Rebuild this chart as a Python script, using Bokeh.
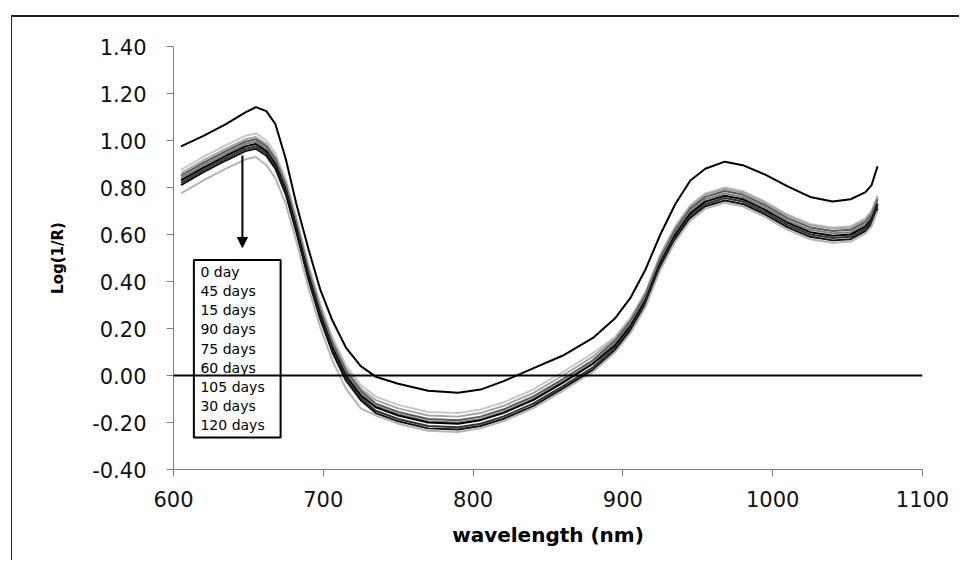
from bokeh.plotting import figure
from bokeh.models import (BoxAnnotation, Span, Arrow, NormalHead, LabelSet,
                          ColumnDataSource, FixedTicker, PrintfTickFormatter)
from bokeh.core.properties import value
from bokeh.embed import file_html
from bokeh.resources import INLINE

# ---------------- data ----------------
wavelength = [605, 620, 635, 648, 655, 662, 668, 675, 682, 690, 698, 706, 715, 725, 735,
              750, 770, 790, 805, 820, 840, 860, 880, 895, 905, 915, 925, 935, 945, 955,
              968, 980, 995, 1010, 1025, 1040, 1052, 1062, 1066, 1070]

day0 = [0.975, 1.02, 1.07, 1.12, 1.142, 1.125, 1.07, 0.92, 0.73, 0.54, 0.365, 0.235, 0.12, 0.04, -0.005,
        -0.035, -0.065, -0.073, -0.06, -0.025, 0.03, 0.085, 0.16, 0.245, 0.33, 0.45, 0.60, 0.73, 0.83, 0.88,
        0.91, 0.895, 0.855, 0.805, 0.76, 0.74, 0.75, 0.78, 0.81, 0.89]
day45 = [0.875, 0.93, 0.98, 1.02, 1.03, 1.0, 0.945, 0.835, 0.675, 0.475, 0.305, 0.165, 0.045, -0.04, -0.09,
         -0.125, -0.155, -0.16, -0.145, -0.115, -0.06, 0.015, 0.095, 0.165, 0.245, 0.355, 0.515, 0.635, 0.725, 0.775,
         0.80, 0.785, 0.74, 0.685, 0.645, 0.63, 0.635, 0.67, 0.70, 0.765]
day15 = [0.86, 0.915, 0.965, 1.005, 1.015, 0.985, 0.93, 0.82, 0.66, 0.46, 0.29, 0.15, 0.03, -0.055, -0.105,
         -0.14, -0.17, -0.175, -0.16, -0.13, -0.075, 0.0, 0.08, 0.16, 0.24, 0.35, 0.51, 0.63, 0.72, 0.77,
         0.795, 0.78, 0.735, 0.68, 0.64, 0.625, 0.63, 0.665, 0.695, 0.76]
day90 = [0.85, 0.905, 0.955, 0.995, 1.005, 0.975, 0.92, 0.81, 0.65, 0.45, 0.28, 0.14, 0.02, -0.065, -0.12,
         -0.155, -0.185, -0.19, -0.175, -0.145, -0.09, -0.015, 0.065, 0.15, 0.23, 0.34, 0.50, 0.62, 0.71, 0.76,
         0.785, 0.77, 0.725, 0.67, 0.63, 0.615, 0.62, 0.655, 0.685, 0.75]
day75 = [0.84, 0.895, 0.945, 0.985, 0.995, 0.965, 0.91, 0.80, 0.64, 0.44, 0.27, 0.13, 0.01, -0.075, -0.13,
         -0.165, -0.195, -0.20, -0.185, -0.155, -0.10, -0.025, 0.055, 0.14, 0.22, 0.33, 0.49, 0.61, 0.70, 0.75,
         0.775, 0.76, 0.715, 0.66, 0.62, 0.605, 0.61, 0.645, 0.675, 0.74]
day60 = [0.83, 0.885, 0.935, 0.975, 0.985, 0.955, 0.90, 0.79, 0.63, 0.43, 0.26, 0.12, 0.0, -0.085, -0.135,
         -0.17, -0.20, -0.205, -0.19, -0.16, -0.105, -0.03, 0.05, 0.13, 0.21, 0.32, 0.48, 0.60, 0.69, 0.74,
         0.765, 0.75, 0.705, 0.65, 0.61, 0.595, 0.60, 0.635, 0.665, 0.73]
day105 = [0.82, 0.875, 0.925, 0.965, 0.975, 0.945, 0.89, 0.78, 0.62, 0.42, 0.25, 0.11, -0.01, -0.095, -0.15,
          -0.185, -0.215, -0.22, -0.205, -0.175, -0.12, -0.045, 0.035, 0.12, 0.20, 0.31, 0.47, 0.59, 0.68, 0.73,
          0.755, 0.74, 0.695, 0.64, 0.60, 0.585, 0.59, 0.625, 0.655, 0.72]
day30 = [0.81, 0.865, 0.915, 0.955, 0.965, 0.935, 0.88, 0.77, 0.61, 0.41, 0.24, 0.10, -0.02, -0.105, -0.16,
         -0.195, -0.225, -0.23, -0.215, -0.185, -0.13, -0.055, 0.025, 0.11, 0.19, 0.30, 0.46, 0.58, 0.67, 0.72,
         0.745, 0.73, 0.685, 0.63, 0.59, 0.575, 0.58, 0.615, 0.645, 0.71]
day120 = [0.775, 0.83, 0.88, 0.92, 0.93, 0.895, 0.84, 0.73, 0.57, 0.375, 0.205, 0.065, -0.055, -0.14, -0.17,
          -0.205, -0.235, -0.24, -0.225, -0.195, -0.14, -0.065, 0.015, 0.10, 0.18, 0.29, 0.45, 0.57, 0.66, 0.71,
          0.735, 0.72, 0.675, 0.62, 0.58, 0.565, 0.57, 0.605, 0.635, 0.70]

series_names = ["0 day", "45 days", "15 days", "90 days", "75 days", "60 days",
                "105 days", "30 days", "120 days"]
series_values = [day0, day45, day15, day90, day75, day60, day105, day30, day120]
series_colors = ["#000000", "#c8c8c8", "#a4a4a4", "#5a5a5a", "#808080", "#000000",
                 "#333333", "#111111", "#b4b4b4"]

x_ticks = [600, 700, 800, 900, 1000, 1100]
y_ticks = [-0.4, -0.2, 0.0, 0.2, 0.4, 0.6, 0.8, 1.0, 1.2, 1.4]

# ---------------- figure ----------------
p = figure(width=948, height=545, x_range=(600, 1100), y_range=(-0.4, 1.4),
           output_backend="svg", toolbar_location=None,
           min_border_left=161, min_border_right=38, min_border_top=29, min_border_bottom=93)
p.margin = (15, 0, 0, 11)
p.styles = {"border-top": "2px solid #222222", "border-left": "1px solid #222222"}
p.outline_line_color = None
p.grid.visible = False
p.background_fill_color = "white"
p.border_fill_color = "white"

for name, vals, col in zip(series_names, series_values, series_colors):
    p.line(wavelength, vals, line_color=col, line_width=2)

# axes
for ax in (p.xaxis[0], p.yaxis[0]):
    ax.axis_line_color = "#808080"
    ax.major_tick_line_color = "#808080"
    ax.minor_tick_line_color = None
    ax.major_tick_in = 0
    ax.major_tick_out = 7
    ax.major_label_text_font = "DejaVu Sans"
    ax.major_label_text_font_size = "21px"
    ax.major_label_text_color = "#111111"
    ax.axis_label_text_color = "#000000"
    ax.axis_label_text_font_style = "bold"

p.xaxis.ticker = FixedTicker(ticks=x_ticks)
p.yaxis.ticker = FixedTicker(ticks=y_ticks)
p.yaxis.formatter = PrintfTickFormatter(format="%.2f")
p.xaxis.major_label_standoff = 14
p.yaxis.major_label_standoff = 20

p.xaxis.axis_label = "wavelength (nm)"
p.xaxis.axis_label_text_font = "DejaVu Sans"
p.xaxis.axis_label_text_font_size = "20px"
p.xaxis.axis_label_standoff = 13

p.yaxis.axis_label = "Log(1/R)"
p.yaxis.axis_label_text_font = "DejaVu Sans"
p.yaxis.axis_label_text_font_size = "15px"
p.yaxis.axis_label_standoff = 22

# legend box (drawn manually, text only)
leg_box = BoxAnnotation(left=613.6, right=671.5, top=0.492, bottom=-0.264,
                        fill_color="white", fill_alpha=1.0,
                        line_color="black", line_alpha=1.0, line_width=2)
p.add_layout(leg_box)
row_top = 0.44
row_step = 0.0813
leg_src = ColumnDataSource(dict(x=[618.0] * len(series_names),
                                y=[row_top - i * row_step for i in range(len(series_names))],
                                text=series_names))
p.add_layout(LabelSet(x="x", y="y", text="text", source=leg_src,
                      text_font=value("DejaVu Sans"), text_font_size=value("14px"),
                      text_baseline="middle", text_color="black"))

# zero line
p.add_layout(Span(location=0, dimension="width", line_color="black", line_width=2))

# arrow
p.add_layout(Arrow(x_start=646, y_start=0.936, x_end=646, y_end=0.545,
                   line_color="black", line_width=2,
                   end=NormalHead(size=10, fill_color="black", line_color="black")))

open("out.html", "w").write(file_html(p, INLINE))
